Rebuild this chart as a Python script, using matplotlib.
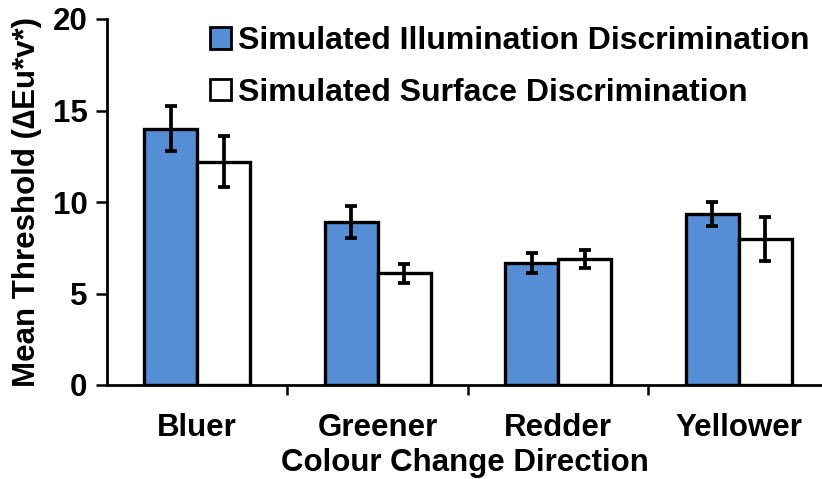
import matplotlib
matplotlib.use("Agg")
import matplotlib.pyplot as plt
import numpy as np

categories = ["Bluer", "Greener", "Redder", "Yellower"]
series_names = ["Simulated Illumination Discrimination", "Simulated Surface Discrimination"]
illum_values = [14.0, 8.9, 6.65, 9.35]
illum_err = [1.23, 0.87, 0.55, 0.65]
surface_values = [12.2, 6.1, 6.9, 8.0]
surface_err = [1.38, 0.5, 0.5, 1.2]
yticks = [0, 5, 10, 15, 20]

plt.rcParams['font.family'] = ['Liberation Sans', 'DejaVu Sans']
plt.rcParams['font.weight'] = 'bold'

FS = 22.5
fig = plt.figure(figsize=(8.22, 4.79), dpi=100)
ax = fig.add_axes([107/822, (479-385)/479, 1 - 107/822, (385-19)/479])

x = np.arange(len(categories))
w = 0.293
ekw = dict(elinewidth=2.7, capthick=2.7)
ax.bar(x - w/2, illum_values, w, color='#558ED5', edgecolor='black', linewidth=2.4,
       label=series_names[0], zorder=2)
ax.bar(x + w/2, surface_values, w, color='white', edgecolor='black', linewidth=2.4,
       label=series_names[1], zorder=2)
ax.errorbar(x - w/2, illum_values, yerr=illum_err, fmt='none', ecolor='black',
            capsize=4, zorder=3, **ekw)
ax.errorbar(x + w/2, surface_values, yerr=surface_err, fmt='none', ecolor='black',
            capsize=4, zorder=3, **ekw)

ax.set_ylim(0, 20)
ax.set_xlim(-0.5, 3.5 - 7/181)
ax.set_yticks(yticks)
ax.set_xticks(x)
ax.set_xticklabels(categories)
ax.set_xticks(np.arange(0.5, 3.5, 1), minor=True)
ax.tick_params(axis='x', which='major', length=0, pad=20, labelsize=FS)
ax.tick_params(axis='x', which='minor', length=7, width=1.8, direction='out')
ax.tick_params(axis='y', length=8, width=1.8, direction='out', labelsize=FS, pad=6)

for s in ['top', 'right']:
    ax.spines[s].set_visible(False)
for s in ['left', 'bottom']:
    ax.spines[s].set_linewidth(2.0)

ax.set_ylabel("Mean Threshold (\u2206Eu*v*)", fontsize=FS, fontweight='bold', labelpad=8)
ax.set_xlabel("Colour Change Direction", fontsize=FS, fontweight='bold', labelpad=4)

leg = ax.legend(loc='upper right', bbox_to_anchor=(1.0, 1.015), frameon=False,
                fontsize=23, handlelength=0.65, handleheight=0.65, handletextpad=0.22,
                labelspacing=0.68, borderaxespad=0)
for h in leg.legend_handles:
    h.set_linewidth(2.0)

fig.savefig("out.png", dpi=100)
